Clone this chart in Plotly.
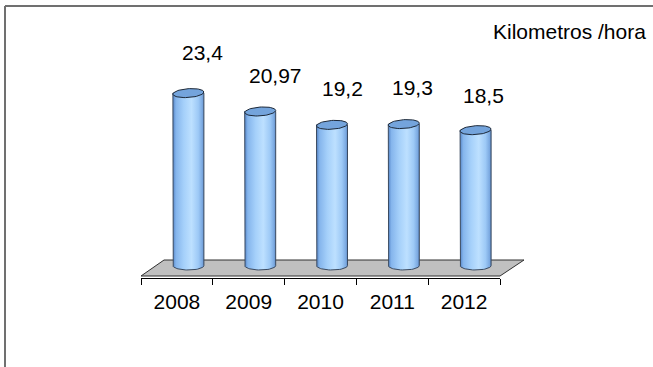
import numpy as np
import plotly.graph_objects as go

years = ["2008", "2009", "2010", "2011", "2012"]
speeds = [23.4, 20.97, 19.2, 19.3, 18.5]
speed_labels = ["23,4", "20,97", "19,2", "19,3", "18,5"]
unit_label = "Kilometros /hora"

W, H = 653, 367
# pixel frame: category boundaries start at X_LEFT, value 0 sits at Y_ZERO
X_LEFT, X_STEP = 141, 71.8
Y_ZERO, Y_STEP = 270, 7.56
x_range = [-0.5 - X_LEFT / X_STEP, -0.5 + (W - X_LEFT) / X_STEP]
y_range = [(Y_ZERO - H) / Y_STEP, Y_ZERO / Y_STEP]


def dx(p):
    return p / X_STEP


def dy(p):
    return p / Y_STEP


FONT = "Liberation Sans, Arial, sans-serif"
fig = go.Figure()

# grey floor of the 3d plot
n = len(years)
fx = [-0.5, -0.5 + dx(23), n - 0.5 + dx(24), n - 0.5, -0.5]
fy = [dy(-6), dy(10), dy(10), dy(-6), dy(-6)]
fig.add_scatter(x=fx, y=fy, mode="lines", fill="toself", fillcolor="#c0c0c0",
                line=dict(color="#303030", width=1), hoverinfo="skip",
                showlegend=False)

# cylinders
rx, ry, tilt = 15.5, 4.4, np.radians(4)
t = np.linspace(0, 2 * np.pi, 61)
ex = rx * np.cos(t)
ey = ry * np.sin(t)
ex_r = ex * np.cos(tilt) - ey * np.sin(tilt)
ey_r = ex * np.sin(tilt) + ey * np.cos(tilt)
front = np.linspace(np.pi, 2 * np.pi, 31)

body_scale = [[0, "#5585c8"], [0.1, "#85b5ec"], [0.35, "#a5d0fa"],
              [0.6, "#bde0ff"], [0.82, "#9dc9f6"], [0.95, "#7aa8e0"],
              [1, "#5a84c0"]]

for i, v in enumerate(speeds):
    cx = i + dx(11.5)
    base = dy(ry)
    bx = cx + dx(rx * np.cos(front))
    by = base + dy(ry * np.sin(front))
    xs = [cx - dx(rx)] + list(bx) + [cx + dx(rx), cx - dx(rx)]
    ys = [v] + list(by) + [v, v]
    fig.add_scatter(x=xs, y=ys, mode="lines", fill="toself",
                    fillgradient=dict(type="horizontal", colorscale=body_scale),
                    line=dict(color="#3a4a60", width=1), hoverinfo="skip",
                    showlegend=False)
    fig.add_scatter(x=cx + dx(ex_r), y=v + dy(ey_r), mode="lines",
                    fill="toself", fillcolor="#74a4dc",
                    line=dict(color="#1c2838", width=1), hoverinfo="skip",
                    showlegend=False)

# anchor trace for the short axis under the floor
fig.add_scatter(x=[-0.5, n - 0.5], y=[0, 0], mode="none", xaxis="x2",
                hoverinfo="skip", showlegend=False)

label_dx = [26, 27, 22, 20, 19]
label_dy = [41, 36, 36, 37, 35]
for i, (v, s) in enumerate(zip(speeds, speed_labels)):
    fig.add_annotation(x=i, y=v, text=s, showarrow=False, xshift=label_dx[i],
                       yshift=label_dy[i], font=dict(size=21, color="#000"))

fig.add_annotation(x=648 / W, y=1 - 31 / H, xref="paper", yref="paper",
                   text=unit_label, showarrow=False, xanchor="right",
                   yanchor="middle", font=dict(size=21, color="#000"))

# chart frame (top and left edges visible)
fig.add_shape(type="line", xref="paper", yref="paper", x0=5 / W, x1=1,
              y0=1 - 6 / H, y1=1 - 6 / H, line=dict(color="#707070", width=2))
fig.add_shape(type="line", xref="paper", yref="paper", x0=5 / W, x1=5 / W,
              y0=0, y1=1 - 6 / H, line=dict(color="#707070", width=2))

axis_pos = (H - 278) / H
fig.update_layout(
    width=W, height=H, margin=dict(l=0, r=0, t=0, b=0),
    paper_bgcolor="white", plot_bgcolor="rgba(0,0,0,0)",
    font=dict(family=FONT, size=21, color="#000"),
    xaxis=dict(range=x_range, tickvals=list(range(n)), ticktext=years,
               showgrid=False, zeroline=False, showline=False, ticks="",
               anchor="free", position=axis_pos, ticklabelstandoff=9,
               tickfont=dict(size=21)),
    xaxis2=dict(range=[-0.5, n - 0.5], domain=[X_LEFT / W, (X_LEFT + n * X_STEP) / W],
                tickvals=[k - 0.5 for k in range(n + 1)], ticks="outside",
                ticklen=6, tickcolor="#000", showticklabels=False,
                showline=True, linecolor="#000", linewidth=1, showgrid=False,
                zeroline=False, anchor="free", position=axis_pos),
    yaxis=dict(range=y_range, visible=False),
)

fig.write_html("out.html", config={"displayModeBar": False},
               post_script="document.body.style.margin='0';")
